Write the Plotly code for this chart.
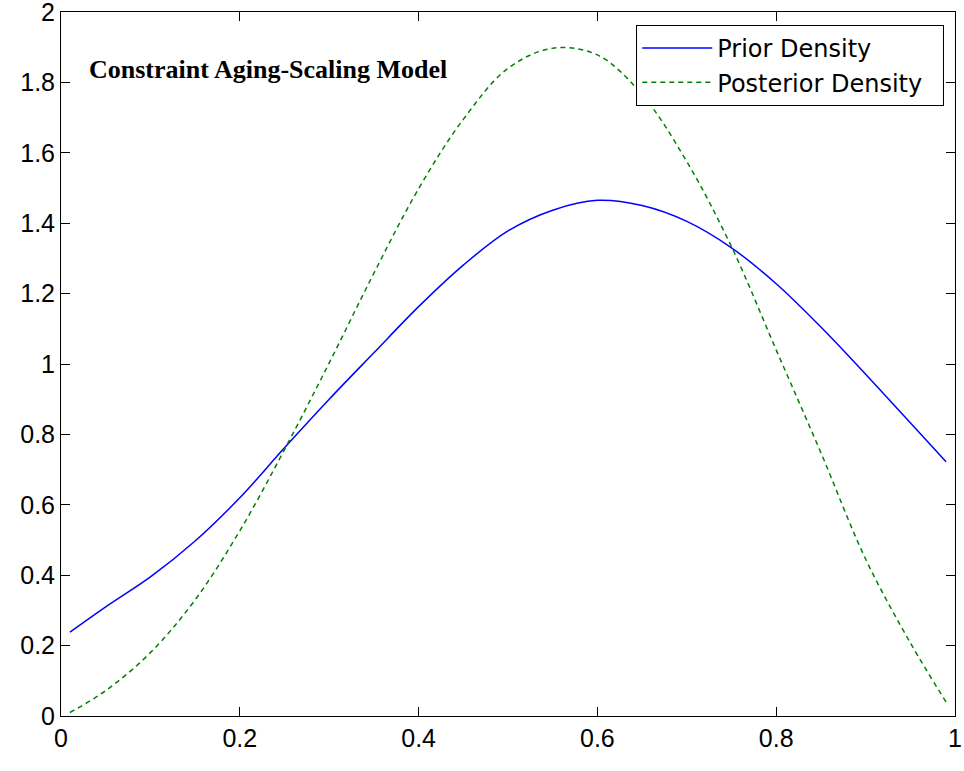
import plotly.graph_objects as go

x_vals = [0.01, 0.05, 0.10, 0.15, 0.20, 0.25, 0.30, 0.35, 0.40, 0.45, 0.50,
          0.55, 0.60, 0.65, 0.70, 0.75, 0.80, 0.85, 0.90, 0.95, 0.99]
prior_density = [0.238, 0.310, 0.395, 0.497, 0.620, 0.762, 0.900, 1.032, 1.163, 1.281, 1.378,
                 1.437, 1.465, 1.450, 1.405, 1.330, 1.228, 1.105, 0.971, 0.833, 0.722]
posterior_density = [0.010, 0.072, 0.180, 0.330, 0.526, 0.757, 1.003, 1.258, 1.498, 1.695, 1.840,
                     1.897, 1.878, 1.765, 1.575, 1.333, 1.040, 0.748, 0.446, 0.208, 0.040]

series_names = ["Prior Density", "Posterior Density"]
title_text = "Constraint Aging-Scaling Model"
tick_vals_x = [0, 0.2, 0.4, 0.6, 0.8, 1]
tick_text_x = ["0", "0.2", "0.4", "0.6", "0.8", "1"]
tick_vals_y = [0, 0.2, 0.4, 0.6, 0.8, 1, 1.2, 1.4, 1.6, 1.8, 2]
tick_text_y = ["0", "0.2", "0.4", "0.6", "0.8", "1", "1.2", "1.4", "1.6", "1.8", "2"]

fig = go.Figure()
fig.add_trace(go.Scatter(x=x_vals, y=prior_density, mode="lines", name=series_names[0] + "\u00a0\u00a0",
                         line=dict(color="#0000ff", width=1.5, shape="spline")))
fig.add_trace(go.Scatter(x=x_vals, y=posterior_density, mode="lines", name=series_names[1] + "\u00a0\u00a0",
                         line=dict(color="#008000", width=1.5, dash="5px,4px", shape="spline")))

axis_common = dict(showgrid=False, zeroline=False, showline=True, linecolor="black", linewidth=1,
                   mirror="ticks", ticks="inside", ticklen=9, tickcolor="black", tickwidth=1,
                   ticklabeloverflow="allow", automargin=False,
                   tickfont=dict(family="Liberation Sans, Arial", size=25, color="black"))

fig.update_xaxes(range=[0, 1], tickvals=tick_vals_x, ticktext=tick_text_x, **axis_common)
fig.update_yaxes(range=[0, 2], tickvals=tick_vals_y, ticktext=tick_text_y, **axis_common)

fig.add_annotation(x=0.029, y=0.918, xref="paper", yref="paper", xanchor="left", yanchor="middle",
                   text="<b>" + title_text + "</b>", showarrow=False, bgcolor="white",
                   font=dict(family="Liberation Serif, Times New Roman", size=26, color="black"))

fig.update_layout(
    width=964, height=771,
    margin=dict(l=61, r=9, t=12, b=55, autoexpand=False),
    paper_bgcolor="white", plot_bgcolor="white",
    showlegend=True,
    legend=dict(x=0.988, y=0.9815, xanchor="right", yanchor="top",
                bgcolor="white", bordercolor="black", borderwidth=1,
                font=dict(family="DejaVu Sans", size=24, color="black"),
                itemwidth=70, tracegroupgap=0),
)

fig.write_html("out.html")
